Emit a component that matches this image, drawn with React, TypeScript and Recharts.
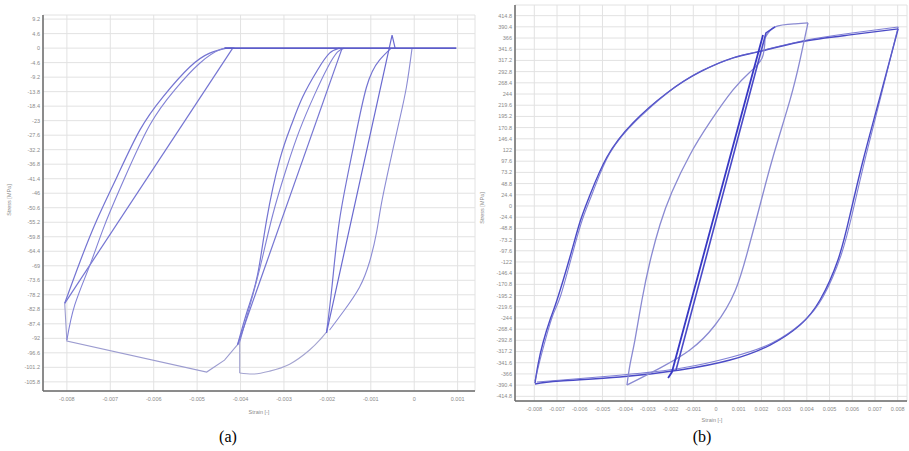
import { LineChart, Line, XAxis, YAxis, CartesianGrid } from 'recharts';

type P = [number, number];

// ---- (a) strain [-] vs stress [MPa]
const aXTicks = [-0.008, -0.007, -0.006, -0.005, -0.004, -0.003, -0.002, -0.001, 0, 0.001];
const aYTicks = [9.2, 4.6, 0, -4.6, -9.2, -13.8, -18.4, -23, -27.6, -32.2, -36.8, -41.4, -46, -50.6,
  -55.2, -59.8, -64.4, -69, -73.6, -78.2, -82.8, -87.4, -92, -96.6, -101.2, -105.8];

const aZero: P[] = [[-0.00437, 0], [0.00097, 0]];
const aOuterLine: P[] = [[-0.00418, 0], [-0.00805, -80.9]];
const aOuterCurve1: P[] = [[-0.00805, -80.9], [-0.0077, -67.8], [-0.00731, -54.5], [-0.00685, -40.9],
  [-0.00632, -26.0], [-0.00579, -15.5], [-0.00517, -6.0], [-0.00471, -1.6], [-0.00432, 0]];
const aOuterCurve2: P[] = [[-0.008, -92.6], [-0.00782, -81.5], [-0.00747, -68.8], [-0.00713, -56.1],
  [-0.00667, -41.2], [-0.00609, -24.4], [-0.00552, -13.3], [-0.00494, -4.8], [-0.00444, -0.3], [-0.00414, 0]];
const aOuterBottom: P[] = [[-0.00805, -80.9], [-0.008, -92.9], [-0.00478, -102.7], [-0.00437, -98.9], [-0.00402, -93.2]];

const aMidCurve1: P[] = [[-0.00407, -94.1], [-0.00384, -83.1], [-0.00361, -72.0], [-0.0034, -54.5],
  [-0.0031, -35.5], [-0.00283, -24.4], [-0.00257, -15.5], [-0.00223, -7.0], [-0.00195, -1.6], [-0.00172, 0]];
const aMidCurve2: P[] = [[-0.00402, -93.2], [-0.00375, -79.9], [-0.00352, -67.8], [-0.00326, -52.9],
  [-0.00294, -38.0], [-0.00264, -26.0], [-0.0023, -14.9], [-0.002, -6.3], [-0.00177, -1.3], [-0.00161, 0]];
const aMidLine: P[] = [[-0.00407, -94.1], [-0.00166, 0]];
const aMidDrop: P[] = [[-0.00402, -93.2], [-0.00402, -103.0]];
const aMidBottom: P[] = [[-0.00402, -103.0], [-0.00368, -103.3], [-0.00333, -102.4],
  [-0.00287, -100.2], [-0.00241, -95.7], [-0.00218, -92.6], [-0.00202, -90.0]];

const aInnerCurve: P[] = [[-0.00202, -90.3], [-0.00189, -75.1], [-0.00172, -54.5], [-0.00143, -33.3],
  [-0.0011, -12.4], [-0.0008, -3.8], [-0.00053, 0]];
const aInnerLine: P[] = [[-0.00202, -90.3], [-0.00051, 4.1], [-0.00044, 0]];
const aReload: P[] = [[-0.00195, -89.4], [-0.00161, -83.1], [-0.00126, -75.8], [-0.00103, -67.8],
  [-0.00087, -58.6], [-0.00074, -48.2], [-0.00051, -33.3], [-0.00034, -22.8], [-0.00018, -12.4], [-0.00005, 0]];

// ---- (b)
const bXTicks = [-0.008, -0.007, -0.006, -0.005, -0.004, -0.003, -0.002, -0.001, 0,
  0.001, 0.002, 0.003, 0.004, 0.005, 0.006, 0.007, 0.008];
const bYTicks = [414.8, 390.4, 366, 341.6, 317.2, 292.8, 268.4, 244, 219.6, 195.2, 170.8, 146.4, 122,
  97.6, 73.2, 48.8, 24.4, 0, -24.4, -48.8, -73.2, -97.6, -122, -146.4, -170.8, -195.2, -219.6, -244,
  -268.4, -292.8, -317.2, -341.6, -366, -390.4, -414.8];

const bOuterUp1: P[] = [[-0.00797, -385.9], [-0.00784, -346.6], [-0.00762, -298.7], [-0.00731, -248.5],
  [-0.007, -204.9], [-0.00643, -111.2], [-0.00599, -34.9], [-0.00555, 24.0], [-0.0048, 106.8],
  [-0.00366, 180.9], [-0.00216, 246.3], [-0.0007, 292.1], [0.00075, 322.6], [0.00185, 335.7],
  [0.0037, 357.5], [0.0059, 372.8], [0.00802, 385.9]];
const bOuterDown1: P[] = [[0.00802, 385.9], [0.00722, 237.6], [0.00648, 100.3], [0.0059, -19.6],
  [0.00537, -117.7], [0.00458, -204.9], [0.0037, -259.4], [0.00238, -303.0], [0.00062, -335.7],
  [-0.00159, -357.5], [-0.00423, -372.8], [-0.00687, -381.5], [-0.00797, -388.0]];
const bOuterUp2: P[] = [[-0.00797, -381.5], [-0.00775, -335.7], [-0.00749, -287.8], [-0.00718, -237.6],
  [-0.00683, -194.0], [-0.0063, -100.3], [-0.00586, -26.2], [-0.00542, 30.5], [-0.00467, 115.5],
  [-0.00348, 187.5], [-0.00203, 250.7], [-0.00057, 296.5], [0.00088, 324.8], [0.00194, 337.9],
  [0.00379, 359.7], [0.00599, 377.1], [0.00802, 390.2]];
const bOuterDown2: P[] = [[0.00802, 390.2], [0.00731, 248.5], [0.00661, 111.2], [0.00604, -8.7],
  [0.00551, -106.8], [0.00471, -198.4], [0.00383, -252.9], [0.00247, -298.7], [0.0007, -329.2],
  [-0.0015, -353.2], [-0.00414, -368.4], [-0.00678, -379.3], [-0.00789, -383.7]];

const bMidUp: P[] = [[-0.00392, -390.2], [-0.00379, -346.6], [-0.00357, -292.1], [-0.00326, -204.9],
  [-0.00291, -122.1], [-0.00247, -41.4], [-0.00194, 30.5], [-0.00115, 111.2], [-0.00026, 183.1],
  [0.00075, 252.9], [0.0015, 292.1], [0.00203, 322.6], [0.00216, 366.2]];
const bMidTop: P[] = [[0.00216, 366.2], [0.0026, 390.2], [0.00348, 396.8], [0.00405, 398.9]];
const bMidDown: P[] = [[0.00405, 398.9], [0.0037, 318.3], [0.00326, 231.1], [0.00251, 106.8],
  [0.00194, 2.2], [0.00141, -95.9], [0.00084, -185.3], [-0.00004, -259.4], [-0.00115, -313.9],
  [-0.00247, -353.2], [-0.00392, -390.2]];
const bInner1: P[] = [[-0.00211, -375.0], [-0.00194, -361.9], [0.00207, 372.8]];
const bInner2: P[] = [[-0.00176, -357.5], [0.0022, 377.1], [0.0026, 390.2]];

const pts = (a: P[]) => a.map(([x, y]) => ({ x, y }));

const tickStyle = { fontSize: 5.5, fill: '#8a8a8a', fontFamily: 'Liberation Sans, Arial, sans-serif' };
const axisLine = { stroke: '#6a6a6a', strokeWidth: 1.5 };
const smallText = { fontSize: 5.5, color: '#8a8a8a', fontFamily: 'Liberation Sans, Arial, sans-serif', whiteSpace: 'nowrap' as const };

export default function App() {
  const line = (key: string, d: P[], color: string, w: number, curve: 'linear' | 'natural' = 'linear', op = 1) => (
    <Line key={key} data={pts(d)} dataKey="y" type={curve} stroke={color} strokeWidth={w}
      strokeOpacity={op} dot={false} isAnimationActive={false} />
  );
  return (
    <div style={{ position: 'absolute', left: 0, top: 0, width: 909, height: 451, background: '#fff', overflow: 'hidden' }}>
      <div style={{ position: 'absolute', left: 0, top: 0 }}>
        <LineChart width={480} height={420} margin={{ top: 15, right: 5, bottom: 0, left: 0 }}>
          <CartesianGrid stroke="#e2e2e2" strokeWidth={1} />
          <XAxis dataKey="x" type="number" domain={[-0.00855, 0.0014]} ticks={aXTicks} interval={0}
            allowDataOverflow height={29} tickLine={false} tickSize={3} tickMargin={3} tick={tickStyle} axisLine={axisLine} />
          <YAxis type="number" domain={[-108.7, 10.5]} ticks={aYTicks} interval={0} allowDataOverflow width={43}
            tickLine={false} tickSize={1} tickMargin={2} tick={tickStyle} axisLine={axisLine} />
          {line('bot1', aOuterBottom, '#9c9cd0', 1.1)}
          {line('bot2', aMidDrop, '#a4a4d0', 1.1)}
          {line('bot3', aMidBottom, '#a4a4d0', 1.1, 'natural')}
          {line('o1', aOuterLine, '#7474d2', 1.2)}
          {line('o2', aOuterCurve1, '#7474d2', 1.2, 'natural')}
          {line('o3', aOuterCurve2, '#8282d6', 1.1, 'natural')}
          {line('m1', aMidCurve1, '#7474d2', 1.2, 'natural')}
          {line('m2', aMidCurve2, '#8282d6', 1.1, 'natural')}
          {line('m3', aMidLine, '#7474d2', 1.2)}
          {line('i1', aInnerCurve, '#7474d2', 1.2, 'natural')}
          {line('i2', aInnerLine, '#6a6ad0', 1.2)}
          {line('r1', aReload, '#8c8cd4', 1.1, 'natural')}
          {line('z', aZero, '#5c5cca', 1.6)}
        </LineChart>
      </div>
      <div style={{ position: 'absolute', left: 470, top: 0 }}>
        <LineChart width={439} height={430} margin={{ top: 5, right: 2, bottom: 0, left: 0 }}>
          <CartesianGrid stroke="#e2e2e2" strokeWidth={1} />
          <XAxis dataKey="x" type="number" domain={[-0.00885, 0.00841]} ticks={bXTicks} interval={0}
            allowDataOverflow height={29} tickLine={false} tickSize={3} tickMargin={3} tick={tickStyle} axisLine={axisLine} />
          <YAxis type="number" domain={[-425, 438]} ticks={bYTicks} interval={0} allowDataOverflow width={45}
            tickLine={false} tickSize={1} tickMargin={2} tick={tickStyle} axisLine={axisLine} />
          {line('ou1', bOuterUp1, '#4a4ac6', 1.4, 'natural')}
          {line('od1', bOuterDown1, '#4a4ac6', 1.4, 'natural')}
          {line('ou2', bOuterUp2, '#6262cc', 1.1, 'natural', 0.8)}
          {line('od2', bOuterDown2, '#6262cc', 1.1, 'natural', 0.8)}
          {line('mu', bMidUp, '#8a8ad2', 1.3, 'natural')}
          {line('mt', bMidTop, '#8a8ad2', 1.3, 'natural')}
          {line('md', bMidDown, '#8a8ad2', 1.3, 'natural')}
          {line('in1', bInner1, '#3838c4', 1.8)}
          {line('in2', bInner2, '#4a4ac8', 1.6)}
        </LineChart>
      </div>
      <div style={{ ...smallText, position: 'absolute', left: 9, top: 200, transform: 'translate(-50%,-50%) rotate(-90deg)' }}>Stress [MPa]</div>
      <div style={{ ...smallText, position: 'absolute', left: 259, top: 412, transform: 'translate(-50%,-50%)' }}>Strain [-]</div>
      <div style={{ ...smallText, position: 'absolute', left: 482, top: 208, transform: 'translate(-50%,-50%) rotate(-90deg)' }}>Stress [MPa]</div>
      <div style={{ ...smallText, position: 'absolute', left: 712, top: 420, transform: 'translate(-50%,-50%)' }}>Strain [-]</div>
      <div style={{ position: 'absolute', left: 228, top: 437, transform: 'translate(-50%,-50%)', fontSize: 16,
        fontFamily: 'Liberation Serif, Times New Roman, serif', color: '#000' }}>(a)</div>
      <div style={{ position: 'absolute', left: 702, top: 437, transform: 'translate(-50%,-50%)', fontSize: 16,
        fontFamily: 'Liberation Serif, Times New Roman, serif', color: '#000' }}>(b)</div>
    </div>
  );
}
